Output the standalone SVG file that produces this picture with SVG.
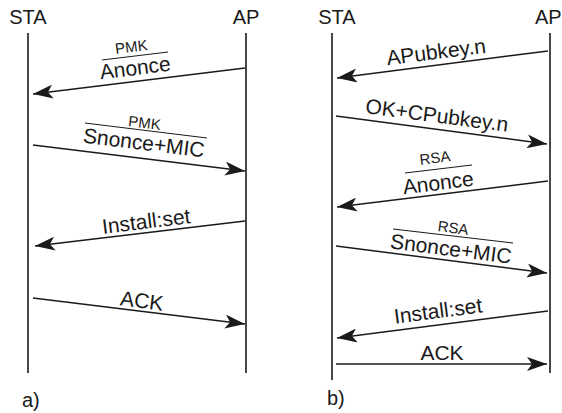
<svg xmlns="http://www.w3.org/2000/svg" width="562" height="413" viewBox="0 0 562 413">
<style>
text{font-family:"Liberation Sans",Arial,sans-serif;fill:#1a1a1a}
.h{font-size:20px}
.l{font-size:21px;text-anchor:middle}
.s{font-size:15px;text-anchor:middle}
.life{stroke:#1a1a1a;stroke-width:1.6;fill:none}
.msg{stroke:#1a1a1a;stroke-width:1.5;fill:none;marker-end:url(#ah)}
.ov{stroke:#1a1a1a;stroke-width:1}
</style>
<defs>
<marker id="ah" markerUnits="userSpaceOnUse" markerWidth="22" markerHeight="14" refX="20" refY="7" orient="auto">
<path d="M0,0 L20,7 L0,14 L5,7 z" fill="#1a1a1a"/>
</marker>
</defs>
<rect width="562" height="413" fill="#fff"/>
<g id="sta-a"><text class="h" x="28" y="24" text-anchor="middle">STA</text><line class="life" x1="28" y1="33" x2="28" y2="373"/></g>
<g id="ap-a"><text class="h" x="246" y="24" text-anchor="middle">AP</text><line class="life" x1="246" y1="33" x2="246" y2="373"/></g>
<g id="sta-b"><text class="h" x="337" y="24" text-anchor="middle">STA</text><line class="life" x1="332" y1="33" x2="332" y2="380"/></g>
<g id="ap-b"><text class="h" x="535" y="24">AP</text><line class="life" x1="550" y1="33" x2="550" y2="373"/></g>
<g id="connectors">
<line class="msg" x1="245" y1="68" x2="33" y2="94"/>
<line class="msg" x1="33" y1="145" x2="245" y2="171"/>
<line class="msg" x1="245" y1="221" x2="35" y2="246"/>
<line class="msg" x1="33" y1="298" x2="245" y2="324"/>
<line class="msg" x1="548" y1="51" x2="337" y2="78"/>
<line class="msg" x1="336" y1="116" x2="547" y2="144"/>
<line class="msg" x1="548" y1="181" x2="337" y2="207"/>
<line class="msg" x1="336" y1="246" x2="547" y2="273"/>
<line class="msg" x1="548" y1="311" x2="337" y2="338"/>
<line class="msg" x1="336" y1="364" x2="547" y2="364"/>
</g>
<g id="labels-a">
<text class="s" x="132" y="52" transform="rotate(-7 132 52)">PMK</text>
<line class="ov" x1="102" y1="60" x2="168" y2="52"/>
<text class="l" x="136" y="75" transform="rotate(-7 136 75)">Anonce</text>
<text class="s" x="144" y="128" transform="rotate(7 144 128)">PMK</text>
<line class="ov" x1="85" y1="123" x2="207" y2="138"/>
<text class="l" x="143" y="150" transform="rotate(7 143 150)">Snonce+MIC</text>
<text class="l" x="147" y="228.5" transform="rotate(-7 147 228.5)">Install:set</text>
<text class="l" x="141" y="308" transform="rotate(7 141 308)">ACK</text>
<text class="h" x="22" y="407">a)</text>
</g>
<g id="labels-b">
<text class="l" x="437" y="59" transform="rotate(-7.3 437 59)">APubkey.n</text>
<text class="l" x="436" y="122.5" transform="rotate(7.5 436 122.5)">OK+CPubkey.n</text>
<text class="s" x="435.5" y="163" transform="rotate(-7 435.5 163)">RSA</text>
<line class="ov" x1="405" y1="173" x2="472" y2="165"/>
<text class="l" x="439" y="190" transform="rotate(-7 439 190)">Anonce</text>
<text class="s" x="452.5" y="233" transform="rotate(7.3 452.5 233)">RSA</text>
<line class="ov" x1="393" y1="229" x2="513" y2="243"/>
<text class="l" x="450" y="256" transform="rotate(7.3 450 256)">Snonce+MIC</text>
<text class="l" x="439" y="318" transform="rotate(-7.3 439 318)">Install:set</text>
<text class="l" x="442" y="360">ACK</text>
<text class="h" x="327" y="405">b)</text>
</g>
</svg>
